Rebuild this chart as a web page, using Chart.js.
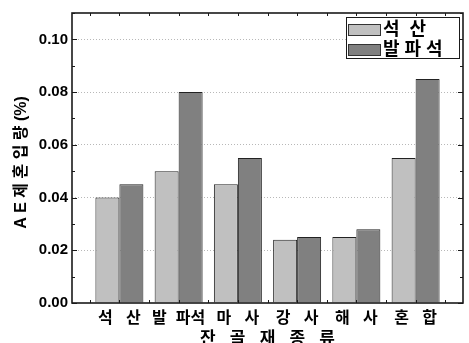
<!DOCTYPE html>
<html>
<head>
<meta charset="utf-8">
<script src="https://cdn.jsdelivr.net/npm/chart.js@4/dist/chart.umd.min.js"></script>
<style>
  html, body { margin: 0; padding: 0; background: #fff; }
  canvas { display: block; }
</style>
</head>
<body>
<canvas id="c" width="469" height="343"></canvas>
<script>
// Sand types (x categories) and AE admixture dosage (%) per aggregate source
const categories = ['석   산', '발  파석', '마   사', '강   사', '해   사', '혼   합'];
const seriesNames = ['석  산', '발 파 석'];
const crushedStone = [0.040, 0.050, 0.045, 0.024, 0.025, 0.055];
const blastedRock = [0.045, 0.080, 0.055, 0.025, 0.028, 0.085];
const yTickValues = [0.00, 0.02, 0.04, 0.06, 0.08, 0.10];

const FAMILY = '"Liberation Sans", "Noto Sans CJK KR", sans-serif';
const INK = '#1a1a1a';

// Closed frame with inward tick marks on all four sides
const framePlugin = {
  id: 'frame',
  afterDraw(chart) {
    const { ctx, chartArea: a, scales: { x, y } } = chart;
    ctx.save();
    ctx.strokeStyle = INK;
    ctx.lineWidth = 1;
    ctx.beginPath();
    for (let k = 0; k <= 11; k++) {
      const py = Math.round(y.getPixelForValue(k / 100)) + 0.5;
      const len = k % 2 === 0 ? 5 : 3;
      ctx.moveTo(a.left, py); ctx.lineTo(a.left + len, py);
      ctx.moveTo(a.right, py); ctx.lineTo(a.right - len, py);
    }
    for (let k = -1; k <= 11; k++) {
      const px = Math.round(x.getPixelForValue(k / 2)) + 0.5;
      ctx.moveTo(px, a.bottom); ctx.lineTo(px, a.bottom - 3);
      ctx.moveTo(px, a.top); ctx.lineTo(px, a.top + 3);
    }
    ctx.stroke();
    ctx.lineWidth = 1.6;
    ctx.strokeRect(a.left, a.top, a.right - a.left, a.bottom - a.top);
    ctx.restore();
  }
};

// Boxed legend in the upper-right corner of the plot
const boxLegendPlugin = {
  id: 'boxLegend',
  afterDraw(chart) {
    const { ctx, chartArea: a } = chart;
    const right = a.right - 4, top = a.top + 4;
    const left = right - 113, bottom = top + 41;
    ctx.save();
    ctx.fillStyle = '#fff';
    ctx.fillRect(left, top, right - left, bottom - top);
    ctx.strokeStyle = INK;
    ctx.lineWidth = 1;
    ctx.strokeRect(left + 0.5, top + 0.5, right - left, bottom - top);
    chart.data.datasets.forEach((ds, i) => {
      const cy = top + 12.5 + i * 20;
      ctx.fillStyle = ds.backgroundColor;
      ctx.fillRect(left + 2, cy - 5.5, 32, 11);
      ctx.strokeStyle = '#333';
      ctx.strokeRect(left + 2.5, cy - 5, 32, 11);
      ctx.fillStyle = '#000';
      ctx.font = 'bold 18px ' + FAMILY;
      ctx.textBaseline = 'middle';
      ctx.textAlign = 'left';
      ctx.fillText(ds.label, left + 37, cy + 1);
    });
    ctx.restore();
  }
};

const toPoints = arr => arr.map((v, i) => ({ x: i, y: v }));

new Chart(document.getElementById('c'), {
  type: 'bar',
  data: {
    datasets: [
      {
        label: seriesNames[0],
        data: toPoints(crushedStone),
        backgroundColor: '#c0c0c0',
        borderColor: '#222',
        borderWidth: 1,
        categoryPercentage: 0.81,
        barPercentage: 1
      },
      {
        label: seriesNames[1],
        data: toPoints(blastedRock),
        backgroundColor: '#808080',
        borderColor: '#222',
        borderWidth: 1,
        categoryPercentage: 0.81,
        barPercentage: 1
      }
    ]
  },
  options: {
    responsive: false,
    animation: false,
    devicePixelRatio: 1,
    layout: { padding: { top: 7, right: 6, left: 0, bottom: 0 } },
    plugins: { legend: { display: false }, tooltip: { enabled: false } },
    scales: {
      x: {
        type: 'linear',
        offset: false,
        min: -0.8,
        max: 5.8,
        afterBuildTicks: s => { s.ticks = categories.map((_, i) => ({ value: i })); },
        afterFit: s => { s.height = 40; },
        grid: { display: false, drawTicks: false, offset: false },
        border: { display: false },
        ticks: {
          autoSkip: false,
          maxRotation: 0,
          padding: 6,
          color: '#000',
          font: { family: FAMILY, size: 16, weight: 'bold' },
          callback: v => categories[v] ?? ''
        },
        title: {
          display: true,
          text: '잔   골   재   종   류',
          color: '#000',
          padding: { top: 0, bottom: -7 },
          font: { family: FAMILY, size: 17, weight: 'bold' }
        }
      },
      y: {
        min: 0,
        max: 0.11,
        afterBuildTicks: s => { s.ticks = yTickValues.map(v => ({ value: v })); },
        afterFit: s => { s.width = 72; },
        grid: {
          drawTicks: false,
          lineWidth: 1,
          color: c => (c.tick && c.tick.value === 0 ? 'rgba(0,0,0,0)' : '#b8b8b8')
        },
        border: { display: false, dash: [1, 2] },
        ticks: {
          padding: 4,
          color: '#000',
          font: { family: FAMILY, size: 15, weight: 'bold' },
          callback: v => Number(v).toFixed(2)
        },
        title: {
          display: true,
          text: 'A E 제 혼 입 량 (%)  ',
          color: '#000',
          padding: { top: 12, bottom: 0 },
          font: { family: FAMILY, size: 16, weight: 'bold' }
        }
      }
    }
  },
  plugins: [framePlugin, boxLegendPlugin]
});
</script>
</body>
</html>
